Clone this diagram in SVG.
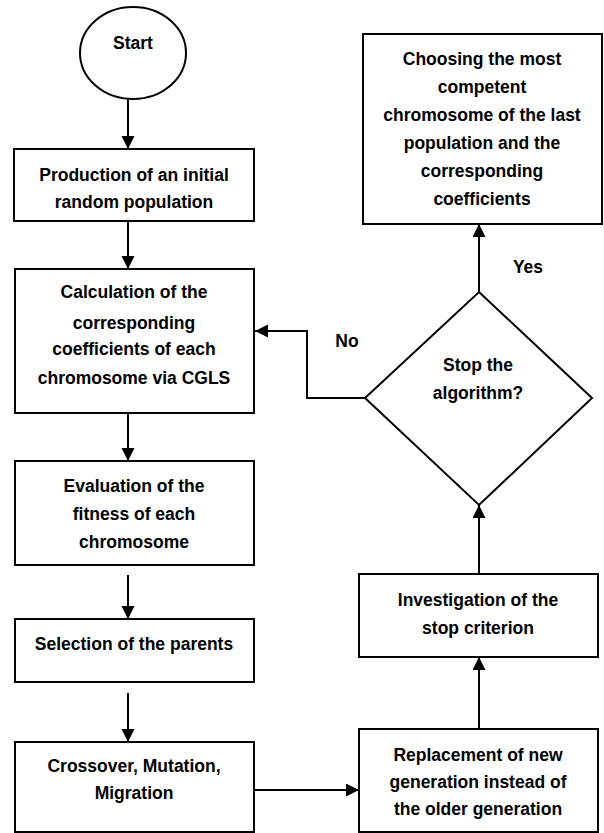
<svg xmlns="http://www.w3.org/2000/svg" width="604" height="833" viewBox="0 0 604 833">
<style>
.shape{fill:#fff;stroke:#000;stroke-width:2}
.conn{fill:none;stroke:#000;stroke-width:2}
text{font-family:"Liberation Sans",Arial,sans-serif;font-weight:bold;font-size:17.5px;fill:#000;text-anchor:middle}
</style>
<defs>
<marker id="arr" markerUnits="userSpaceOnUse" markerWidth="14" markerHeight="14" refX="13" refY="6.5" orient="auto">
<path d="M0,0 L13,6.5 L0,13 z" fill="#000"/>
</marker>
</defs>
<rect width="604" height="833" fill="#fff"/>
<g id="connectors">
<line class="conn" x1="128" y1="100" x2="128" y2="149" marker-end="url(#arr)"/>
<line class="conn" x1="128" y1="221" x2="128" y2="269" marker-end="url(#arr)"/>
<line class="conn" x1="128" y1="413" x2="128" y2="461" marker-end="url(#arr)"/>
<line class="conn" x1="128" y1="575" x2="128" y2="619" marker-end="url(#arr)"/>
<line class="conn" x1="128" y1="693" x2="128" y2="742" marker-end="url(#arr)"/>
<line class="conn" x1="254" y1="790" x2="359" y2="790" marker-end="url(#arr)"/>
<line class="conn" x1="479" y1="729" x2="479" y2="657" marker-end="url(#arr)"/>
<line class="conn" x1="479" y1="574" x2="479" y2="505" marker-end="url(#arr)"/>
<line class="conn" x1="479" y1="292" x2="479" y2="224" marker-end="url(#arr)"/>
<polyline class="conn" points="365,398 307,398 307,331 255,331" marker-end="url(#arr)"/>
</g>
<g id="start">
<ellipse class="shape" cx="133" cy="53" rx="53" ry="46"/>
<text x="133" y="49">Start</text>
</g>
<g id="init">
<rect class="shape" x="14" y="149" width="240" height="72"/>
<text x="134" y="181">Production of an initial</text>
<text x="134" y="208">random population</text>
</g>
<g id="calc">
<rect class="shape" x="15" y="269" width="239" height="144"/>
<text x="134" y="298">Calculation of the</text>
<text x="134" y="329">corresponding</text>
<text x="134" y="355">coefficients of each</text>
<text x="134" y="384">chromosome via CGLS</text>
</g>
<g id="eval">
<rect class="shape" x="15" y="461" width="239" height="104"/>
<text x="134" y="492">Evaluation of the</text>
<text x="134" y="520">fitness of each</text>
<text x="134" y="548">chromosome</text>
</g>
<g id="select">
<rect class="shape" x="15" y="619" width="239" height="63"/>
<text x="134" y="650">Selection of the parents</text>
</g>
<g id="crossover">
<rect class="shape" x="15" y="742" width="239" height="90"/>
<text x="134" y="772">Crossover, Mutation,</text>
<text x="134" y="799">Migration</text>
</g>
<g id="replace">
<rect class="shape" x="359" y="729" width="239" height="103"/>
<text x="478" y="761">Replacement of new</text>
<text x="478" y="788">generation instead of</text>
<text x="478" y="815">the older generation</text>
</g>
<g id="investigate">
<rect class="shape" x="359" y="574" width="239" height="83"/>
<text x="478" y="606">Investigation of the</text>
<text x="478" y="634">stop criterion</text>
</g>
<g id="decision">
<polygon class="shape" points="479,292 592,398 479,505 365,398"/>
<text x="478" y="371">Stop the</text>
<text x="478" y="399">algorithm?</text>
</g>
<g id="choose">
<rect class="shape" x="363" y="34" width="239" height="190"/>
<text x="482" y="65">Choosing the most</text>
<text x="482" y="93">competent</text>
<text x="482" y="121">chromosome of the last</text>
<text x="482" y="149">population and the</text>
<text x="482" y="177">corresponding</text>
<text x="482" y="205">coefficients</text>
</g>
<g id="labels">
<text x="528" y="273">Yes</text>
<text x="347" y="347">No</text>
</g>
</svg>
